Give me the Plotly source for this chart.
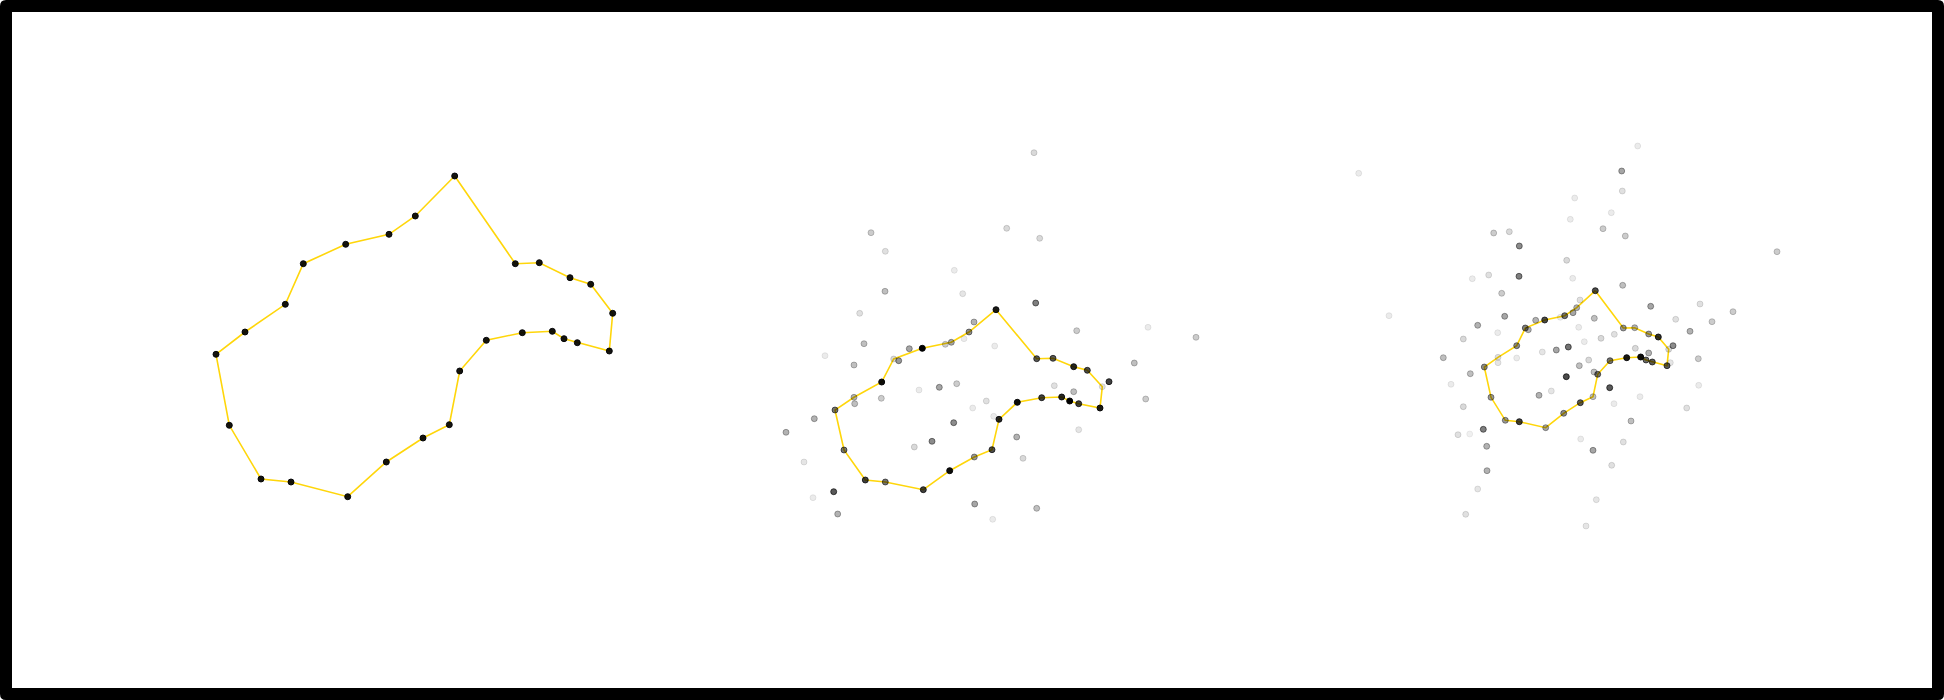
import plotly.graph_objects as go

# ---------------- Panel 1: outline only ----------------
p1_x = [27.47, 33.53, 35.93, 39.00, 41.07, 43.27, 42.93, 39.73, 38.40, 37.23, 34.23, 30.63, 27.97, 26.93,
        24.30, 20.63, 16.77, 11.10, 8.10, 4.93, 3.60, 6.50, 10.53, 12.33, 16.57, 20.90, 23.53]
p1_y = [42.40, 33.63, 33.73, 32.23, 31.57, 28.67, 24.90, 25.73, 26.13, 26.87, 26.73, 25.97, 22.90, 17.53,
        16.20, 13.80, 10.33, 11.80, 12.10, 17.47, 24.57, 26.80, 29.57, 33.63, 35.57, 36.57, 38.40]
p1_a = [0.92] * 27

# ---------------- Panel 2: outline + noise ----------------
p2_x = [23.60, 27.67, 29.30, 31.37, 32.73, 34.23, 34.00, 31.87, 30.97, 30.17, 28.17, 25.73, 23.90, 23.20,
        21.43, 18.97, 16.33, 12.53, 10.53, 8.40, 7.50, 9.40, 12.17, 13.37, 16.23, 19.13, 20.90]
p2_y = [29.03, 24.13, 24.17, 23.33, 22.97, 21.33, 19.20, 19.63, 19.90, 20.30, 20.23, 19.77, 18.07, 15.03,
        14.30, 12.93, 11.03, 11.80, 12.00, 15.00, 19.00, 20.27, 21.80, 24.10, 25.17, 25.77, 26.80]
p2_a = [0.9, 0.65, 0.65, 0.85, 0.7, 0.12, 0.9, 0.75, 1.0, 0.85, 0.75, 0.95, 0.85, 0.7,
        0.4, 0.95, 0.75, 0.55, 0.75, 0.55, 0.55, 0.3, 0.95, 0.15, 1.0, 0.35, 0.45]

n2_x = [27.40, 11.10, 24.67, 27.97, 12.53, 19.43, 12.50, 20.27, 9.97, 27.57, 21.40, 31.67, 38.80, 43.60,
        6.50, 10.40, 14.93, 18.53, 20.40, 23.47, 9.40, 13.87, 37.43, 9.47, 12.13, 15.90, 17.93, 19.67,
        22.63, 21.27, 23.37, 29.43, 31.37, 34.90, 38.57, 31.87, 5.43, 2.60, 19.37, 17.20, 15.43, 25.67,
        26.30, 4.40, 7.37, 5.30, 7.77, 21.47, 27.67, 23.27]
n2_y = [44.73, 36.73, 37.17, 36.17, 34.87, 32.97, 30.87, 30.63, 28.67, 29.70, 27.80, 26.93, 27.27, 26.27,
        24.43, 25.63, 25.13, 25.57, 26.13, 25.40, 23.50, 23.93, 23.70, 19.63, 20.17, 21.00, 21.27, 21.63,
        19.90, 19.20, 18.37, 21.43, 20.83, 21.83, 20.10, 17.03, 18.13, 16.77, 17.73, 15.87, 15.30, 16.30,
        14.17, 13.80, 10.83, 10.23, 8.60, 9.60, 9.17, 8.07]
n2_a = [0.15, 0.2, 0.15, 0.15, 0.12, 0.08, 0.25, 0.1, 0.12, 0.5, 0.3, 0.2, 0.08, 0.2,
        0.08, 0.25, 0.35, 0.2, 0.08, 0.08, 0.25, 0.4, 0.25, 0.25, 0.2, 0.08, 0.35, 0.2,
        0.12, 0.08, 0.08, 0.12, 0.25, 0.75, 0.2, 0.1, 0.3, 0.3, 0.45, 0.45, 0.15, 0.3,
        0.15, 0.1, 0.65, 0.08, 0.3, 0.35, 0.25, 0.08]

# ---------------- Panel 3: outline + more noise ----------------
p3_x = [27.53, 30.33, 31.47, 32.87, 33.83, 34.87, 34.70, 33.23, 32.60, 32.07, 30.67, 29.00, 27.77, 27.30,
        26.03, 24.37, 22.57, 19.93, 18.53, 17.10, 16.43, 17.80, 19.67, 20.53, 22.47, 24.47, 25.67]
p3_y = [30.93, 27.20, 27.23, 26.60, 26.30, 25.07, 23.43, 23.80, 24.00, 24.30, 24.23, 23.93, 22.57, 20.33,
        19.73, 18.67, 17.23, 17.83, 17.97, 20.27, 23.30, 24.27, 25.43, 27.20, 28.00, 28.43, 29.23]
p3_a = [0.7, 0.4, 0.3, 0.4, 0.8, 0.15, 0.65, 0.65, 0.6, 0.95, 0.9, 0.55, 0.55, 0.25,
        0.65, 0.45, 0.35, 0.75, 0.4, 0.4, 0.45, 0.12, 0.45, 0.5, 0.7, 0.55, 0.3]

n3_x = [31.77, 3.87, 30.17, 30.23, 25.47, 29.13, 25.03, 28.30, 30.53, 17.37, 18.93, 19.93, 45.70, 24.67,
        15.23, 16.87, 19.90, 25.27, 18.17, 30.27, 6.90, 18.47, 15.77, 33.07, 38.00, 41.30, 35.57, 39.20,
        37.00, 27.43, 25.87, 17.77, 14.33, 28.10, 29.43, 26.43, 24.83, 23.63, 22.23, 19.67, 12.33, 31.53,
        32.87, 37.83, 25.93, 26.87, 15.03, 13.10, 24.63, 28.97, 37.87, 21.90, 23.13, 32.00, 29.40, 14.33,
        36.67, 31.10, 16.33, 13.80, 14.97, 26.07, 30.33, 16.67, 27.30, 29.17, 16.70, 15.77, 27.63, 14.57,
        26.60, 35.30, 35.03, 27.40, 17.80, 20.83, 21.57, 24.03, 25.30, 26.00]
n3_y = [45.40, 42.67, 42.90, 40.90, 40.20, 38.73, 38.07, 37.13, 36.40, 36.70, 36.83, 35.40, 34.83, 33.97,
        32.13, 32.50, 32.37, 32.17, 30.67, 31.47, 28.43, 28.37, 27.47, 29.37, 29.60, 28.83, 28.07, 27.83,
        26.87, 28.17, 27.27, 26.73, 26.10, 26.17, 26.57, 25.83, 25.30, 25.00, 24.80, 24.20, 24.23, 25.17,
        24.70, 24.13, 23.43, 24.00, 22.63, 21.57, 22.33, 21.23, 21.47, 20.47, 20.90, 20.33, 19.63, 19.33,
        19.20, 17.90, 17.07, 16.53, 16.60, 16.10, 15.80, 15.37, 14.97, 13.47, 12.93, 11.10, 10.03, 8.57,
        7.40, 25.43, 23.73, 22.80, 23.73, 27.03, 27.97, 28.27, 28.73, 30.00]
n3_a = [0.08, 0.08, 0.35, 0.12, 0.08, 0.08, 0.08, 0.2, 0.2, 0.2, 0.15, 0.45, 0.2, 0.15,
        0.08, 0.12, 0.5, 0.08, 0.2, 0.25, 0.08, 0.35, 0.3, 0.35, 0.12, 0.2, 0.12, 0.2,
        0.3, 0.25, 0.08, 0.08, 0.15, 0.15, 0.12, 0.08, 0.55, 0.35, 0.1, 0.08, 0.25, 0.15,
        0.3, 0.2, 0.25, 0.15, 0.25, 0.08, 0.7, 0.65, 0.08, 0.3, 0.1, 0.08, 0.08, 0.15,
        0.12, 0.25, 0.5, 0.12, 0.06, 0.08, 0.12, 0.3, 0.35, 0.12, 0.3, 0.1, 0.1, 0.12,
        0.1, 0.45, 0.1, 0.25, 0.1, 0.3, 0.3, 0.08, 0.35, 0.12]

W, H = 1944, 700
LINE_COLOR = "#FFD60A"

panels = [
    dict(px=p1_x, py=p1_y, pa=p1_a, nx=[], ny=[], na=[], dom=(180, 660)),
    dict(px=p2_x, py=p2_y, pa=p2_a, nx=n2_x, ny=n2_y, na=n2_a, dom=(760, 1240)),
    dict(px=p3_x, py=p3_y, pa=p3_a, nx=n3_x, ny=n3_y, na=n3_a, dom=(1320, 1800)),
]

fig = go.Figure()
layout_axes = {}
for i, p in enumerate(panels, start=1):
    xa = "x" if i == 1 else f"x{i}"
    ya = "y" if i == 1 else f"y{i}"
    # closed outline
    fig.add_trace(go.Scatter(
        x=p["px"] + p["px"][:1], y=p["py"] + p["py"][:1], mode="lines",
        line=dict(color=LINE_COLOR, width=1.6), xaxis=xa, yaxis=ya,
        hoverinfo="skip", showlegend=False))
    # noise points
    if p["nx"]:
        cols = [f"rgba(0,0,0,{a})" for a in p["na"]]
        fig.add_trace(go.Scatter(
            x=p["nx"], y=p["ny"], mode="markers",
            marker=dict(size=6, color=cols, line=dict(width=1, color=cols)),
            xaxis=xa, yaxis=ya, showlegend=False))
    # outline points
    cols = [f"rgba(0,0,0,{a})" for a in p["pa"]]
    fig.add_trace(go.Scatter(
        x=p["px"], y=p["py"], mode="markers",
        marker=dict(size=6, color=cols, line=dict(width=1, color=cols)),
        xaxis=xa, yaxis=ya, showlegend=False))

    axkw = dict(visible=False, showgrid=False, zeroline=False, fixedrange=True)
    layout_axes[f"xaxis{'' if i == 1 else i}"] = dict(
        domain=[p["dom"][0] / W, p["dom"][1] / W], range=[0, 48], anchor=ya, **axkw)
    layout_axes[f"yaxis{'' if i == 1 else i}"] = dict(
        domain=[1 - 600 / H, 1 - 100 / H], range=[0, 50], anchor=xa, **axkw)

# black frame with slightly rounded outer corners
r = 6
b = 12
def fx(v):
    return v / W
def fy(v):
    return 1 - v / H
outer = (f"M {fx(r)},{fy(0)} L {fx(W - r)},{fy(0)} Q {fx(W)},{fy(0)} {fx(W)},{fy(r)} "
         f"L {fx(W)},{fy(H - r)} Q {fx(W)},{fy(H)} {fx(W - r)},{fy(H)} "
         f"L {fx(r)},{fy(H)} Q {fx(0)},{fy(H)} {fx(0)},{fy(H - r)} "
         f"L {fx(0)},{fy(r)} Q {fx(0)},{fy(0)} {fx(r)},{fy(0)} Z")
inner = (f"M {fx(b)},{fy(b)} L {fx(W - b)},{fy(b)} L {fx(W - b)},{fy(H - b)} "
         f"L {fx(b)},{fy(H - b)} Z")

fig.update_layout(
    width=W, height=H,
    margin=dict(l=0, r=0, t=0, b=0),
    paper_bgcolor="white", plot_bgcolor="rgba(0,0,0,0)",
    showlegend=False,
    shapes=[dict(type="path", xref="paper", yref="paper", path=outer + " " + inner,
                 fillcolor="black", fillrule="evenodd", line=dict(width=0), layer="above")],
    **layout_axes,
)

fig.write_html("out.html")
